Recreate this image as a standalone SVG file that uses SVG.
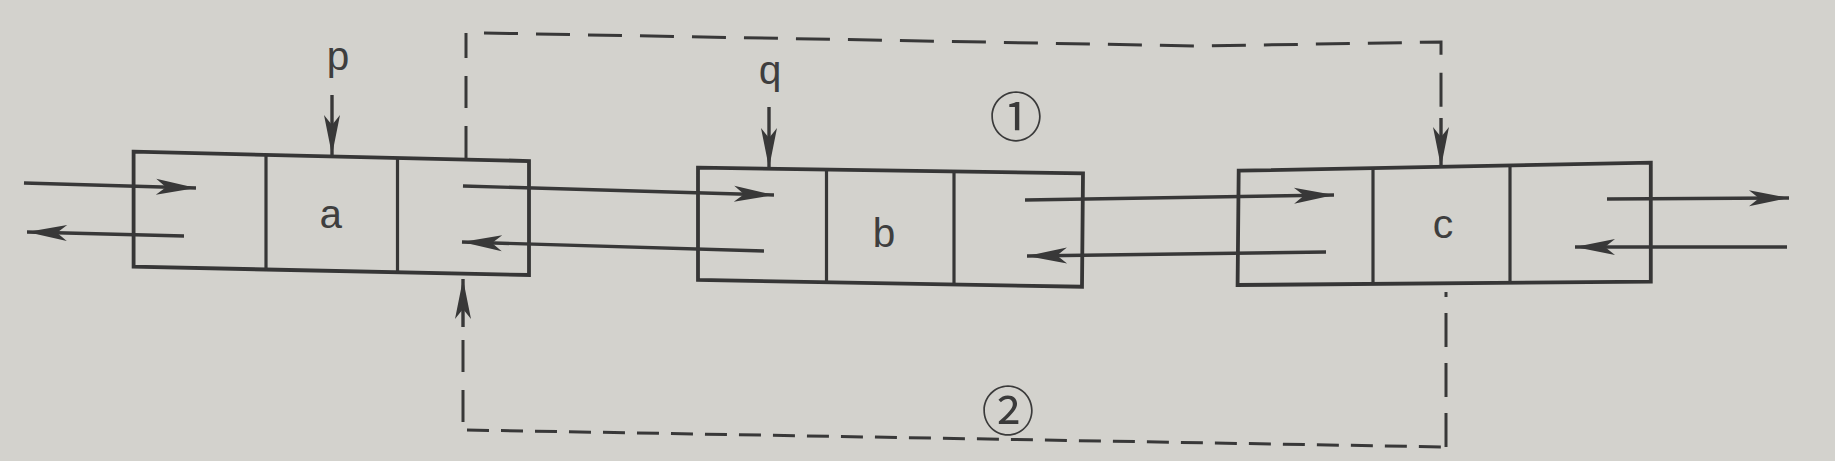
<svg xmlns="http://www.w3.org/2000/svg" width="1835" height="461" viewBox="0 0 1835 461">
<style>
.box{fill:none;stroke:#363636;stroke-width:3.8;stroke-linejoin:miter}
.div{stroke:#363636;stroke-width:3.2}
.arr{fill:none;stroke:#383838;stroke-width:3.4;marker-end:url(#ah)}
.dash{fill:none;stroke:#383838;stroke-width:3}
.lbl{font-family:"Liberation Mono","DejaVu Sans Mono",monospace;font-size:41px;fill:#3e3e3e;text-anchor:middle}
.num{font-family:"Noto Sans CJK SC","DejaVu Sans",sans-serif;font-size:53px;fill:#3a3a3a;text-anchor:middle}
</style>
<defs>
<marker id="ah" markerUnits="userSpaceOnUse" markerWidth="44" markerHeight="18" refX="40" refY="8" orient="auto" overflow="visible">
<path d="M0,0 L40,8 L0,16 L10,8 Z" fill="#383838"/>
</marker>
</defs>
<rect x="0" y="0" width="1835" height="461" fill="#d3d2cd"/>

<g id="node-a">
<path class="box" d="M133.6,151.7 L529,161 L529,275 L133.6,266.7 Z"/>
<line class="div" x1="266" y1="155" x2="266" y2="269.5"/>
<line class="div" x1="397.5" y1="158" x2="397.5" y2="272.5"/>
<text class="lbl" x="331" y="228">a</text>
</g>

<g id="node-b">
<path class="box" d="M698,167.7 L1083,173.3 L1082,286.7 L698,280 Z"/>
<line class="div" x1="826.5" y1="169.5" x2="826.5" y2="282.5"/>
<line class="div" x1="954" y1="171.5" x2="954" y2="284.5"/>
<text class="lbl" x="884" y="247">b</text>
</g>

<g id="node-c">
<path class="box" d="M1238.7,170.7 L1650.8,162.7 L1650.8,281.7 L1237.6,285 Z"/>
<line class="div" x1="1373" y1="168" x2="1373" y2="284"/>
<line class="div" x1="1510" y1="165.5" x2="1510" y2="283"/>
<text class="lbl" x="1443" y="238" style="font-family:'Liberation Sans','DejaVu Sans',sans-serif">c</text>
</g>

<g id="label-p">
<text class="lbl" x="338" y="70">p</text>
</g>
<g id="label-q">
<text class="lbl" x="770" y="84">q</text>
</g>
<g id="label-1">
<text class="num" x="1016" y="137">①</text>
</g>
<g id="label-2">
<text class="num" x="1008" y="431">②</text>
</g>

<g id="connectors">
<!-- pointers -->
<line class="arr" x1="332" y1="95" x2="332" y2="155"/>
<line class="arr" x1="769" y1="107" x2="769" y2="168"/>
<!-- left external -->
<line class="arr" x1="24" y1="183" x2="196" y2="188"/>
<line class="arr" x1="184" y1="236" x2="27" y2="232"/>
<!-- a <-> b -->
<line class="arr" x1="463" y1="186" x2="774" y2="195"/>
<line class="arr" x1="764" y1="251" x2="462" y2="242"/>
<!-- b <-> c -->
<line class="arr" x1="1025" y1="200" x2="1334" y2="195"/>
<line class="arr" x1="1326" y1="252" x2="1027" y2="256"/>
<!-- right external -->
<line class="arr" x1="1607" y1="199" x2="1789" y2="198"/>
<line class="arr" x1="1787" y1="247" x2="1575" y2="247"/>
<!-- dashed 1 -->
<path class="dash" stroke-dasharray="32 18" d="M466,158 L466,33"/>
<path class="dash" stroke-dasharray="34 18" d="M484,33 L1200,46 L1441,42 L1441,110"/>
<line class="arr" x1="1441" y1="118" x2="1441" y2="167"/>
<!-- dashed 2 -->
<line class="arr" x1="463" y1="327" x2="463" y2="279"/>
<path class="dash" stroke-dasharray="32 18" d="M463,340 L463,424"/>
<path class="dash" stroke-dasharray="22 12" d="M467,430 L1445,447"/>
<path class="dash" stroke-dasharray="34 16" d="M1446,447 L1446,292"/>
</g>
</svg>
